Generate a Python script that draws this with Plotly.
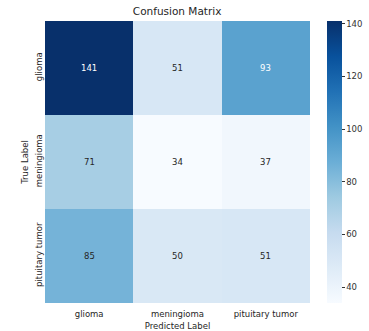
import plotly.graph_objects as go

labels = ["glioma", "meningioma", "pituitary tumor"]
z = [
    [141, 51, 93],
    [71, 34, 37],
    [85, 50, 51],
]
cb_ticks = [40, 60, 80, 100, 120, 140]

blues = ["#f7fbff", "#deebf7", "#c6dbef", "#9ecae1", "#6baed6",
         "#4292c6", "#2171b5", "#08519c", "#08306b"]
colorscale = [[i / (len(blues) - 1), c] for i, c in enumerate(blues)]

zmin = min(min(r) for r in z)
zmax = max(max(r) for r in z)

fig = go.Figure(go.Heatmap(
    z=z, x=labels, y=labels, colorscale=colorscale, zmin=zmin, zmax=zmax,
    colorbar=dict(thickness=15, len=1, lenmode="fraction", x=1.064, xanchor="left",
                  y=0.5, yanchor="middle", ypad=0, xpad=0,
                  tickvals=cb_ticks, ticks="outside",
                  ticklen=3, tickcolor="#333", outlinewidth=0,
                  tickfont=dict(size=8.5, color="#333")),
    showscale=True, hoverinfo="skip",
))

annotations = []
for i, row in enumerate(z):
    for j, v in enumerate(row):
        frac = (v - zmin) / (zmax - zmin)
        annotations.append(dict(
            x=labels[j], y=labels[i], text=str(v), showarrow=False,
            font=dict(size=8.5, color="white" if frac > 0.55 else "#262626"),
        ))

fig.update_layout(
    width=369, height=331,
    margin=dict(l=45, r=59, t=21, b=28, autoexpand=False),
    paper_bgcolor="white", plot_bgcolor="white",
    font=dict(family="DejaVu Sans", size=8.5, color="#262626"),
    title=dict(text="Confusion Matrix", x=0.48, xanchor="center", y=0.978,
               yanchor="top", font=dict(size=10.5, color="#262626")),
    annotations=annotations,
    xaxis=dict(title=dict(text="Predicted Label", standoff=5, font=dict(size=8.5)),
               showgrid=False, ticks="", tickfont=dict(size=8.5),
               ticklabelstandoff=4),
    yaxis=dict(title=dict(text="True Label", standoff=4, font=dict(size=8.5)),
               autorange="reversed", showgrid=False, ticks="", tickangle=-90,
               tickfont=dict(size=8.5)),
)

fig.write_html("out.html", config={"displayModeBar": False},
               post_script="document.body.style.margin='0';document.body.style.overflow='hidden';")
